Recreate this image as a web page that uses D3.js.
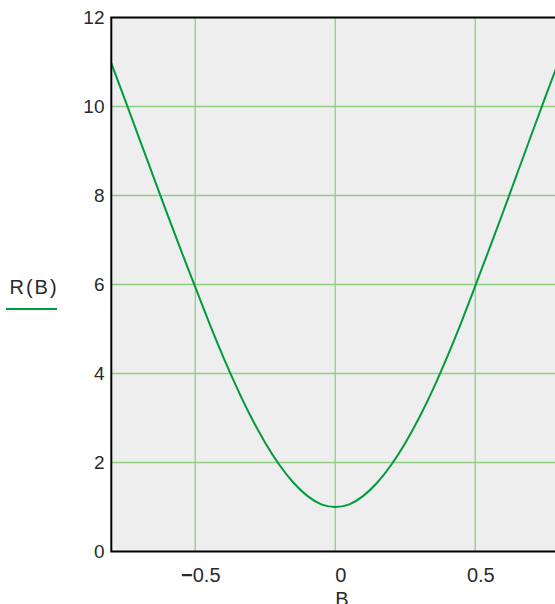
<!DOCTYPE html>
<html>
<head>
<meta charset="utf-8">
<script src="https://cdn.jsdelivr.net/npm/d3@7"></script>
<style>
  body { margin: 0; background: #fff; }
  text { font-family: "Liberation Sans", Arial, sans-serif; }
</style>
</head>
<body>
<svg id="chart"></svg>
<script>
// readings of R(B)
const bValues = [-0.8, -0.75, -0.7, -0.65, -0.6, -0.55, -0.5, -0.45, -0.4, -0.35, -0.3, -0.25, -0.2, -0.15, -0.1, -0.05,
  0, 0.05, 0.1, 0.15, 0.2, 0.25, 0.3, 0.35, 0.4, 0.45, 0.5, 0.55, 0.6, 0.65, 0.7, 0.75, 0.8];
const rValues = [10.97, 10.13, 9.28, 8.43, 7.58, 6.75, 5.94, 5.13, 4.37, 3.66, 3.01, 2.44, 1.95, 1.55, 1.25, 1.06,
  1.0, 1.06, 1.25, 1.55, 1.95, 2.44, 3.01, 3.66, 4.38, 5.15, 5.97, 6.8, 7.64, 8.5, 9.36, 10.21, 11.05];
const xTicks = [-0.5, 0, 0.5];
const yTicks = [0, 2, 4, 6, 8, 10, 12];
const seriesName = 'R(B)';
const xLabel = 'B';

const width = 555, height = 604;
const lineColor = '#009b3a';
const gridColor = '#8fd080';
const textColor = '#2a2a2a';

const svg = d3.select('#chart')
  .attr('width', width)
  .attr('height', height);

const x = d3.scaleLinear().domain([-0.8, 0.8]).range([111.3, 559.3]);
const y = d3.scaleLinear().domain([0, 12]).range([551.5, 17.5]);

// plot background
svg.append('rect')
  .attr('x', x(-0.8))
  .attr('y', y(12))
  .attr('width', x(0.8) - x(-0.8))
  .attr('height', y(0) - y(12))
  .attr('fill', '#eeeeee');

// grid
svg.append('g').selectAll('line')
  .data(xTicks)
  .enter().append('line')
  .attr('x1', d => x(d)).attr('x2', d => x(d))
  .attr('y1', y(12)).attr('y2', y(0))
  .attr('stroke', gridColor)
  .attr('stroke-width', 1.3);

svg.append('g').selectAll('line')
  .data(yTicks.filter(d => d > 0 && d < 12))
  .enter().append('line')
  .attr('x1', x(-0.8)).attr('x2', x(0.8))
  .attr('y1', d => y(d)).attr('y2', d => y(d))
  .attr('stroke', gridColor)
  .attr('stroke-width', 1.3);

// curve
const pts = bValues.map((b, i) => [b, rValues[i]]);
svg.append('path')
  .datum(pts)
  .attr('d', d3.line()
    .x(d => x(d[0]))
    .y(d => y(d[1]))
    .curve(d3.curveNatural))
  .attr('fill', 'none')
  .attr('stroke', lineColor)
  .attr('stroke-width', 2);

// frame
svg.append('rect')
  .attr('x', x(-0.8))
  .attr('y', y(12))
  .attr('width', x(0.8) - x(-0.8))
  .attr('height', y(0) - y(12))
  .attr('fill', 'none')
  .attr('stroke', '#000')
  .attr('stroke-width', 2);

// y tick labels
svg.append('g').selectAll('text')
  .data(yTicks)
  .enter().append('text')
  .attr('x', 104.5)
  .attr('y', d => y(d))
  .attr('dy', '0.36em')
  .attr('text-anchor', 'end')
  .attr('font-size', '19px')
  .attr('fill', textColor)
  .text(d => d);

// x tick labels (minus drawn heavier, as in the original)
const xt = svg.append('g').selectAll('text')
  .data(xTicks)
  .enter().append('text')
  .attr('x', d => x(d) + 5.5)
  .attr('y', 582)
  .attr('text-anchor', 'middle')
  .attr('font-size', '20px')
  .attr('fill', textColor);
xt.filter(d => d < 0).append('tspan')
  .attr('font-weight', 'bold')
  .text('\u2212');
xt.append('tspan').text(d => Math.abs(d));

svg.append('text')
  .attr('x', x(0) + 6.5)
  .attr('y', 606)
  .attr('text-anchor', 'middle')
  .attr('font-size', '20px')
  .attr('fill', textColor)
  .text(xLabel);

// legend
svg.append('text')
  .attr('x', 34)
  .attr('y', 294)
  .attr('text-anchor', 'middle')
  .attr('font-size', '20px')
  .attr('letter-spacing', '2px')
  .attr('fill', textColor)
  .text(seriesName);

svg.append('line')
  .attr('x1', 6).attr('x2', 57)
  .attr('y1', 309).attr('y2', 309)
  .attr('stroke', lineColor)
  .attr('stroke-width', 2);
</script>
</body>
</html>
